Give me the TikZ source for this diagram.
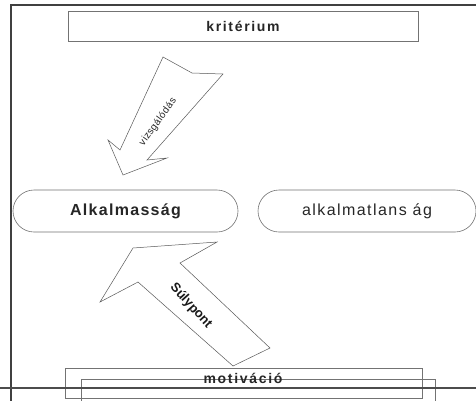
\documentclass[tikz,border=0pt]{standalone}
\usepackage{fontspec}
\setmainfont{Liberation Sans}
\newfontfamily\spacedr[LetterSpace=9]{Liberation Sans}
\newfontfamily\spacedk[LetterSpace=12]{Liberation Sans Bold}
\newfontfamily\spaceda[LetterSpace=8]{Liberation Sans Bold}
\newfontfamily\slight[LetterSpace=4]{Liberation Sans}
\begin{document}
\begin{tikzpicture}[x=1pt,y=-1pt,
  box/.style={draw=black!55,line width=0.6pt,inner sep=0pt,text=black!85},
  stad/.style={draw=black!55,line width=0.6pt,inner sep=0pt,text=black!85,rounded corners=21pt,minimum height=42pt},
  blockarrow/.style={draw=black!65,line width=0.5pt,fill=white,line join=miter},
  framel/.style={line width=2pt,draw=black!75}]
\useasboundingbox (0,0) rectangle (476,400);
\clip (0,0) rectangle (476,400);
\fill[white] (0,0) rectangle (476,400);
% frame
\draw[framel] (11,402) -- (11,5) -- (478,5);
% top box
\node[box,minimum width=350pt,minimum height=30pt,font={\spacedk\fontsize{14}{16}\selectfont}] (krit) at (243,26) {kritérium};
% stadium nodes
\node[stad,minimum width=225pt,font={\spaceda\fontsize{16}{18}\selectfont}] (alk) at (125.5,211) {Alkalmasság};
\node[stad,minimum width=218pt,font={\spacedr\fontsize{16}{18}\selectfont}] (nalk) at (367,211) {alkalmatlans ág};
% top block arrow
\draw[blockarrow] (163,57) -- (192,73) -- (223,74) -- (147,160) -- (167,158) -- (123,175) -- (108,140) -- (120,150) -- cycle;
\node[rotate=54,font={\slight\fontsize{10}{11}\selectfont},text=black!85] (viz) at (158,122) {vizsgálódás};
% bottom block arrow
\draw[blockarrow] (100,302) -- (133,248) -- (217,242) -- (180,263) -- (270,348) -- (233,366) -- (138,282) -- cycle;
\node[rotate=-48,font={\bfseries\fontsize{13}{15}\selectfont},text=black!90] (suly) at (191,306) {Súlypont};
% bottom boxes
\draw[box] (81,379) rectangle (435,405);
\node[box,minimum width=357pt,minimum height=30pt] (motbox) at (243.5,383) {};
\draw[line width=1.6pt,black!70] (0,388) -- (478,388);
\node[font={\spacedk\fontsize{14}{16}\selectfont},text=black!85] (motiv) at (243,378) {motiváció};
\end{tikzpicture}
\end{document}
